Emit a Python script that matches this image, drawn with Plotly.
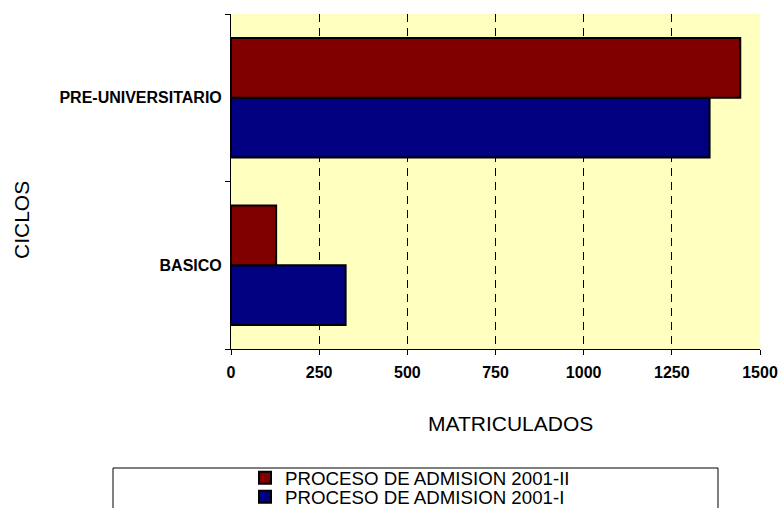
import plotly.graph_objects as go

# ---- data ----
categories = ["BASICO", "PRE-UNIVERSITARIO"]
admision_2001_I = [325, 1357]
admision_2001_II = [128, 1444]
series_names = ["PROCESO DE ADMISION 2001-I", "PROCESO DE ADMISION 2001-II"]
x_ticks = [0, 250, 500, 750, 1000, 1250, 1500]
x_title = "MATRICULADOS"
y_title = "CICLOS"

W, H = 779, 508
L, R, T, B = 231, 19, 14, 159
PW, PH = W - L - R, H - T - B


def px_x(X):
    return (X - L) / PW


def px_y(Y):
    return (H - B - Y) / PH


FONT = "Arial, Liberation Sans, sans-serif"

fig = go.Figure()
fig.add_trace(go.Bar(
    y=categories, x=admision_2001_I, orientation="h", name=series_names[0],
    marker=dict(color="#000080", line=dict(color="black", width=2)),
    legend="legend2",
))
fig.add_trace(go.Bar(
    y=categories, x=admision_2001_II, orientation="h", name=series_names[1],
    marker=dict(color="#800000", line=dict(color="black", width=2)),
    legend="legend",
))

fig.update_layout(
    width=W, height=H,
    margin=dict(l=L, r=R, t=T, b=B, autoexpand=False),
    paper_bgcolor="white",
    plot_bgcolor="#FFFFC0",
    barmode="group",
    bargap=0.286,
    bargroupgap=0,
    font=dict(family=FONT, color="black"),
    showlegend=True,
    legend=dict(x=px_x(245), y=px_y(478), xanchor="left", yanchor="middle",
                bgcolor="rgba(0,0,0,0)", borderwidth=0,
                font=dict(family=FONT, size=18.7, color="black")),
    legend2=dict(x=px_x(245), y=px_y(497), xanchor="left", yanchor="middle",
                 bgcolor="rgba(0,0,0,0)", borderwidth=0,
                 font=dict(family=FONT, size=18.7, color="black")),
    xaxis=dict(
        range=[0, 1500], tickvals=x_ticks, ticktext=[str(v) for v in x_ticks],
        showgrid=True, gridcolor="black", gridwidth=1, griddash="8px,6px",
        showline=True, linecolor="black", linewidth=1,
        ticks="outside", ticklen=5, tickcolor="black", ticklabelstandoff=4,
        tickfont=dict(family=FONT, size=16, weight="bold", color="black"),
        zeroline=False, automargin=False, fixedrange=True,
    ),
    yaxis=dict(
        type="category", categoryorder="array", categoryarray=categories,
        showgrid=False, showline=True, linecolor="black", linewidth=1,
        ticks="outside", ticklen=5, tickcolor="black", tickson="boundaries",
        ticklabelstandoff=5,
        tickfont=dict(family=FONT, size=16, weight="bold", color="black"),
        zeroline=False, automargin=False, fixedrange=True,
    ),
    annotations=[
        dict(text=x_title, xref="paper", yref="paper", x=px_x(510), y=px_y(423),
             xanchor="center", yanchor="middle", showarrow=False,
             font=dict(family=FONT, size=21, color="black")),
        dict(text=y_title, xref="paper", yref="paper", x=px_x(21), y=px_y(220),
             xanchor="center", yanchor="middle", showarrow=False, textangle=-90,
             font=dict(family=FONT, size=21, color="black")),
    ],
    shapes=[
        dict(type="rect", xref="paper", yref="paper",
             x0=px_x(113), x1=px_x(718), y0=px_y(468), y1=px_y(530),
             line=dict(color="black", width=1), fillcolor="rgba(0,0,0,0)",
             layer="below"),
    ],
)

fig.write_html(
    "out.html",
    config={"displayModeBar": False},
    post_script="document.body.style.margin='0px';document.body.style.overflow='hidden';",
)
